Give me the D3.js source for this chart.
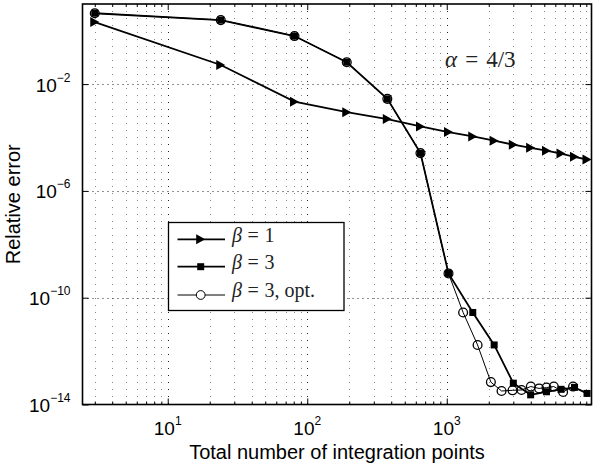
<!DOCTYPE html>
<html>
<head>
<meta charset="utf-8">
<script src="https://cdn.jsdelivr.net/npm/d3@7"></script>
<style>
  html, body { margin: 0; padding: 0; background: #fff; }
  svg { display: block; }
</style>
</head>
<body>
<svg id="chart" width="593" height="465"></svg>
<script>
// Total number of integration points for each level n = 1..15
const pointsBeta1 = [3, 24, 81, 192, 375, 648, 1029, 1536, 2187, 3000, 3993, 5184, 6591, 8232, 10125];
const errorBeta1 = [2.1, 5.2e-2, 2.2e-3, 8.9e-4, 4.9e-4, 2.6e-4, 1.6e-4, 1.1e-4, 7.6e-5, 5.4e-5, 4.1e-5, 3.2e-5, 2.5e-5, 1.9e-5, 1.5e-5];

const pointsBeta3 = [3, 24, 81, 192, 375, 648, 1029, 1536, 2187, 3000, 3993, 5184, 6591, 8232, 10125];
const errorBeta3 = [4.5, 2.5, 0.63, 6.6e-2, 2.8e-3, 2.6e-5, 8.1e-10, 2.8e-11, 1.7e-12, 6.3e-14, 2.3e-14, 3.0e-14, 3.7e-14, 4.4e-14, 2.6e-14];

const pointsOpt = [3, 24, 81, 192, 375, 648, 1029, 1310, 1663, 2071, 2470, 2960, 3434, 4003, 4590, 5188, 5850, 6820, 8040];
const errorOpt = [4.5, 2.5, 0.63, 6.6e-2, 2.8e-3, 2.6e-5, 8.1e-10, 2.8e-11, 1.7e-12, 6.9e-14, 3.2e-14, 3.4e-14, 3.5e-14, 4.7e-14, 4.0e-14, 4.3e-14, 4.7e-14, 2.95e-14, 4.7e-14];

const xTickValues = [10, 100, 1000];
const xTickExponents = ["1", "2", "3"];
const yTickValues = [1e-14, 1e-10, 1e-6, 1e-2];
const yTickExponents = ["\u221214", "\u221210", "\u22126", "\u22122"];

const legendLabels = [["\u03b2", "1"], ["\u03b2", "3"], ["\u03b2", "3, opt."]];
const annotation = ["\u03b1", "4/3"];

const svg = d3.select("#chart");
const plot = { left: 82.5, right: 591.5, top: 4, bottom: 404.5 };
const sans = "'Liberation Sans', Arial, Helvetica, sans-serif";
const serif = "'Liberation Serif', 'Times New Roman', serif";

const x = d3.scaleLog().domain([2.45, 10900]).range([plot.left, plot.right]);
const y = d3.scaleLog().domain([1e-14, 10]).range([plot.bottom, plot.top]);

// minor decade multiples for the log x axis
const xMinor = [];
for (let p = 0; p <= 4; p++) {
  for (let m = 2; m <= 10; m++) {
    const v = m * Math.pow(10, p);
    if (v >= x.domain()[0] && v <= x.domain()[1] && !xTickValues.includes(v)) xMinor.push(v);
  }
}

const grid = svg.append("g");
// minor vertical grid
grid.selectAll("line.xminor").data(xMinor).join("line")
  .attr("x1", d => Math.round(x(d)) + 0.5).attr("x2", d => Math.round(x(d)) + 0.5)
  .attr("y1", plot.top).attr("y2", plot.bottom)
  .attr("stroke", "#888").attr("stroke-width", 1).attr("stroke-dasharray", "1,6");
// major vertical grid
grid.selectAll("line.xmajor").data(xTickValues).join("line")
  .attr("x1", d => Math.round(x(d)) + 0.5).attr("x2", d => Math.round(x(d)) + 0.5)
  .attr("y1", plot.top).attr("y2", plot.bottom)
  .attr("stroke", "#222").attr("stroke-width", 1).attr("stroke-dasharray", "1,6");
// major horizontal grid
grid.selectAll("line.ymajor").data(yTickValues.slice(1)).join("line")
  .attr("x1", plot.left).attr("x2", plot.right)
  .attr("y1", d => Math.round(y(d)) + 0.5).attr("y2", d => Math.round(y(d)) + 0.5)
  .attr("stroke", "#222").attr("stroke-width", 1).attr("stroke-dasharray", "1,4");

// axes with inward ticks on all four sides
const axisStyle = g => {
  g.select(".domain").remove();
  g.selectAll(".tick line").attr("stroke", "#000").attr("stroke-width", 1);
};
svg.append("g").attr("transform", `translate(0,${plot.bottom})`)
  .call(d3.axisBottom(x).tickValues(xTickValues).tickSize(-6).tickFormat(""))
  .call(axisStyle);
svg.append("g").attr("transform", `translate(0,${plot.bottom})`)
  .call(d3.axisBottom(x).tickValues(xMinor).tickSize(-3).tickFormat(""))
  .call(axisStyle);
svg.append("g").attr("transform", `translate(0,${plot.top})`)
  .call(d3.axisTop(x).tickValues(xTickValues).tickSize(-6).tickFormat(""))
  .call(axisStyle);
svg.append("g").attr("transform", `translate(0,${plot.top})`)
  .call(d3.axisTop(x).tickValues(xMinor).tickSize(-3).tickFormat(""))
  .call(axisStyle);
svg.append("g").attr("transform", `translate(${plot.left},0)`)
  .call(d3.axisLeft(y).tickValues(yTickValues).tickSize(-6).tickFormat(""))
  .call(axisStyle);
svg.append("g").attr("transform", `translate(${plot.right},0)`)
  .call(d3.axisRight(y).tickValues(yTickValues).tickSize(-6).tickFormat(""))
  .call(axisStyle);

// box
svg.append("rect")
  .attr("x", plot.left).attr("y", plot.top)
  .attr("width", plot.right - plot.left).attr("height", plot.bottom - plot.top)
  .attr("fill", "none").attr("stroke", "#000").attr("stroke-width", 1.6);

// tick labels as powers of ten
const xl = svg.append("g").attr("font-family", sans).attr("fill", "#000");
xTickValues.forEach((v, i) => {
  const t = xl.append("text").attr("x", x(v)).attr("y", 435).attr("text-anchor", "middle");
  t.append("tspan").attr("font-size", 19).text("10");
  t.append("tspan").attr("font-size", 12).attr("dy", -10).text(xTickExponents[i]);
});
const yl = svg.append("g").attr("font-family", sans).attr("fill", "#000");
yTickValues.forEach((v, i) => {
  const t = yl.append("text").attr("x", plot.left - 12).attr("y", y(v) + 7.5).attr("text-anchor", "end");
  t.append("tspan").attr("font-size", 19).text("10");
  t.append("tspan").attr("font-size", 12).attr("dy", -10).text(yTickExponents[i]);
});

// axis titles
svg.append("text").attr("x", (plot.left + plot.right) / 2).attr("y", 459)
  .attr("text-anchor", "middle").attr("font-family", sans).attr("font-size", 20)
  .text("Total number of integration points");
svg.append("text").attr("transform", `translate(19.5,${(plot.top + plot.bottom) / 2}) rotate(-90)`)
  .attr("text-anchor", "middle").attr("font-family", sans).attr("font-size", 20)
  .text("Relative error");

// math-style text: italic symbol, spaced equals sign, upright value
function mathText(g, x0, y0, sym, value, size, gap) {
  const t = g.append("text").attr("x", x0).attr("y", y0)
    .attr("font-family", serif).attr("font-size", size).attr("fill", "#222");
  t.append("tspan").attr("font-style", "italic").text(sym);
  t.append("tspan").attr("dx", size * gap).text("=");
  t.append("tspan").attr("dx", size * gap).text(value);
  return t;
}

// annotation
mathText(svg, 445, 67, annotation[0], annotation[1], 23, 0.35);

// series
const line = d3.line().x(d => x(d[0])).y(d => y(d[1]));
const zip = (a, b) => a.map((v, i) => [v, b[i]]);

const dataBeta1 = zip(pointsBeta1, errorBeta1);
const dataBeta3 = zip(pointsBeta3, errorBeta3);
const dataOpt = zip(pointsOpt, errorOpt);

const series = svg.append("g");
series.append("path").datum(dataBeta1).attr("d", line)
  .attr("fill", "none").attr("stroke", "#000").attr("stroke-width", 1.8);
series.append("path").datum(dataBeta3).attr("d", line)
  .attr("fill", "none").attr("stroke", "#000").attr("stroke-width", 1.8);
series.append("path").datum(dataOpt).attr("d", line)
  .attr("fill", "none").attr("stroke", "#000").attr("stroke-width", 1);

const triPath = "M-4.5,-5 L4.5,0 L-4.5,5 Z";
const drawTri = (g, cx, cy) => g.append("path").attr("d", triPath)
  .attr("transform", `translate(${cx},${cy})`).attr("fill", "#000");
const drawSq = (g, cx, cy) => g.append("rect")
  .attr("x", cx - 3.5).attr("y", cy - 3.5).attr("width", 7).attr("height", 7).attr("fill", "#000");
const drawCirc = (g, cx, cy) => g.append("circle")
  .attr("cx", cx).attr("cy", cy).attr("r", 4.4)
  .attr("fill", "none").attr("stroke", "#000").attr("stroke-width", 1.3);

dataBeta1.forEach(d => drawTri(series, x(d[0]), y(d[1])));
dataBeta3.forEach(d => drawSq(series, x(d[0]), y(d[1])));
dataOpt.forEach(d => drawCirc(series, x(d[0]), y(d[1])));

// legend
const lg = svg.append("g");
lg.append("rect").attr("x", 168.5).attr("y", 222.5).attr("width", 175.5).attr("height", 88)
  .attr("fill", "#fff").attr("stroke", "#000").attr("stroke-width", 1.3);
const rows = [239.3, 266.7, 295];
const widths = [1.8, 1.8, 1];
rows.forEach((ry, i) => {
  lg.append("line").attr("x1", 177.5).attr("x2", 225).attr("y1", ry).attr("y2", ry)
    .attr("stroke", "#000").attr("stroke-width", widths[i]);
  if (i === 0) drawTri(lg, 200.7, ry);
  else if (i === 1) drawSq(lg, 200.7, ry);
  else drawCirc(lg, 200.7, ry).attr("fill", "#fff").attr("stroke-width", 1);
  mathText(lg, 232, ry + 2.4, legendLabels[i][0], legendLabels[i][1], 20, 0.28);
});
</script>
</body>
</html>
